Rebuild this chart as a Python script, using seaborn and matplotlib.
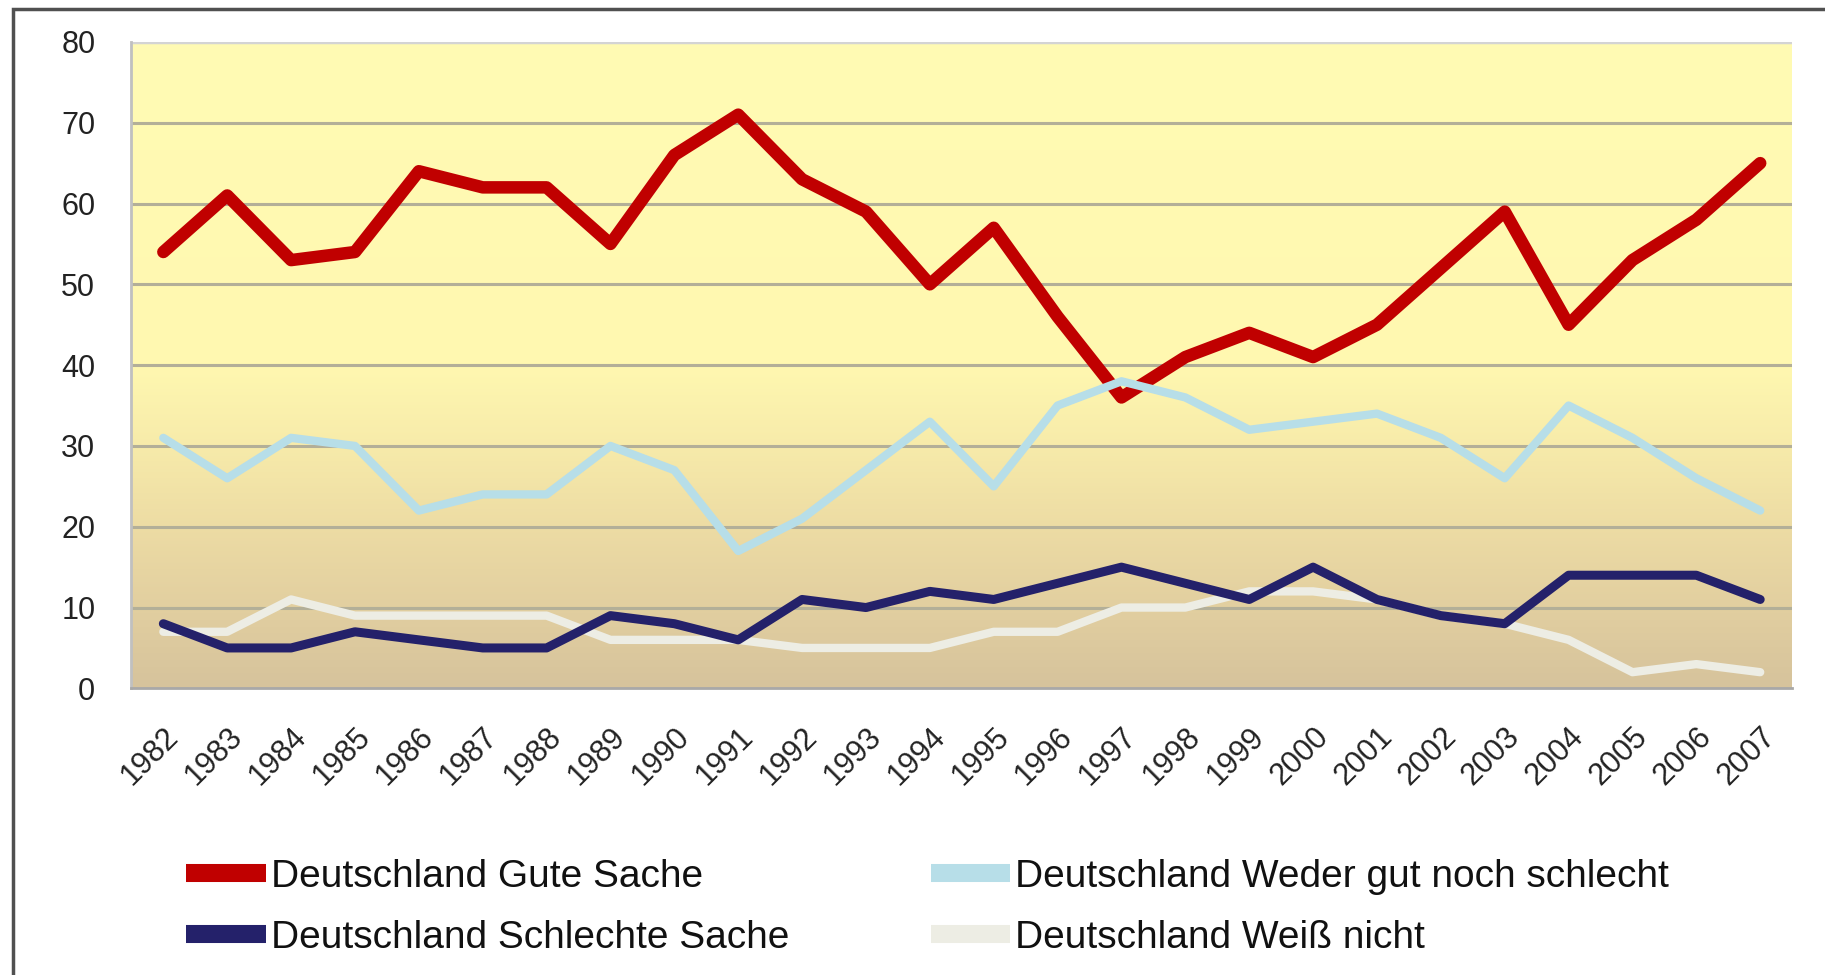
import matplotlib
matplotlib.use("Agg")
import matplotlib.pyplot as plt
import numpy as np
import pandas as pd
import seaborn as sns
from matplotlib.colors import LinearSegmentedColormap
from matplotlib.patches import Rectangle

years = [str(y) for y in range(1982, 2008)]
gute_sache = [54, 61, 53, 54, 64, 62, 62, 55, 66, 71, 63, 59, 50,
              57, 46, 36, 41, 44, 41, 45, 52, 59, 45, 53, 58, 65]
schlechte_sache = [8, 5, 5, 7, 6, 5, 5, 9, 8, 6, 11, 10, 12,
                   11, 13, 15, 13, 11, 15, 11, 9, 8, 14, 14, 14, 11]
weder_noch = [31, 26, 31, 30, 22, 24, 24, 30, 27, 17, 21, 27, 33,
              25, 35, 38, 36, 32, 33, 34, 31, 26, 35, 31, 26, 22]
weiss_nicht = [7, 7, 11, 9, 9, 9, 9, 6, 6, 6, 5, 5, 5,
               7, 7, 10, 10, 12, 12, 11, 9, 8, 6, 2, 3, 2]

labels = ["Deutschland Gute Sache", "Deutschland Schlechte Sache",
          "Deutschland Weder gut noch schlecht", "Deutschland Weiß nicht"]
colors = {"Deutschland Gute Sache": "#C00000",
          "Deutschland Schlechte Sache": "#24216A",
          "Deutschland Weder gut noch schlecht": "#B7DEE8",
          "Deutschland Weiß nicht": "#EDEDE4"}
widths = {"Deutschland Gute Sache": 9,
          "Deutschland Schlechte Sache": 6.5,
          "Deutschland Weder gut noch schlecht": 6,
          "Deutschland Weiß nicht": 6}

df = pd.DataFrame({"Jahr": years,
                   labels[0]: gute_sache,
                   labels[1]: schlechte_sache,
                   labels[2]: weder_noch,
                   labels[3]: weiss_nicht})
df["pos"] = np.arange(len(years))

sns.set_style("white")
plt.rcParams["font.family"] = ["Liberation Sans", "DejaVu Sans"]

fig = plt.figure(figsize=(18.25, 9.75), dpi=100)
ax = fig.add_axes([0.072, 0.294, 0.910, 0.663])

# gradient background
bg = LinearSegmentedColormap.from_list(
    "bg", [(0.0, "#D6C39C"), (0.125, "#E2CFA0"), (0.25, "#EDDCA4"),
           (0.375, "#F7EBAA"), (0.5, "#FFF8B0"), (1.0, "#FFFBB4")])
grad = np.linspace(0, 1, 256).reshape(-1, 1)
ax.imshow(grad, cmap=bg, origin="lower", aspect="auto",
          extent=(-0.5, 25.5, 0, 80), zorder=0)

for y in range(10, 80, 10):
    ax.axhline(y, color="#B3AF98", lw=2.2, zorder=1)
ax.axhline(80, color="#D4D4D4", lw=2.5, zorder=1)

draw_order = [labels[0], labels[3], labels[2], labels[1]]
for name in draw_order:
    sns.lineplot(data=df, x="pos", y=name, ax=ax, color=colors[name],
                 lw=widths[name], label=name, legend=False, zorder=3,
                 solid_joinstyle="round")

ax.set_xlim(-0.5, 25.5)
ax.set_ylim(0, 80)
ax.set_xlabel("")
ax.set_ylabel("")

ax.set_yticks(range(0, 81, 10))
ax.tick_params(axis="y", length=9, width=1.5, color="#B0B0B0", pad=17,
               labelsize=22, labelcolor="#222222")
ax.set_xticks(df["pos"])
ax.set_xticklabels(years, rotation=45, ha="right", va="top",
                   rotation_mode="anchor")
ax.set_xticks(np.arange(-0.5, 26, 1), minor=True)
ax.tick_params(axis="x", which="major", length=0, pad=24,
               labelsize=22, labelcolor="#222222")
ax.tick_params(axis="x", which="minor", length=9, width=1.5,
               color="#B0B0B0")

for side in ["top", "right"]:
    ax.spines[side].set_visible(False)
ax.spines["left"].set_color("#C0C0C0")
ax.spines["left"].set_linewidth(2)
ax.spines["bottom"].set_color("#A8A8A8")
ax.spines["bottom"].set_linewidth(2)

handles = {h.get_label(): h for h in ax.get_lines() if h.get_label() in labels}

leg_kw = dict(frameon=False, fontsize=28, handlelength=2.05, handletextpad=0.12,
              labelspacing=0.64, borderpad=0, borderaxespad=0, loc="upper left")
leg1 = fig.legend([handles[labels[0]], handles[labels[1]]], labels[:2],
                  bbox_to_anchor=(0.102, 0.119), **leg_kw)
leg2 = fig.legend([handles[labels[2]], handles[labels[3]]], labels[2:],
                  bbox_to_anchor=(0.510, 0.119), **leg_kw)
for leg in (leg1, leg2):
    for line in leg.get_lines():
        line.set_linewidth(13)
        line.set_solid_capstyle("butt")
    for t in leg.get_texts():
        t.set_color("#111111")

# outer chart frame (only left and top visible)
fig.add_artist(Rectangle((13 / 1825, -0.2), 1.2, 1.2 - 9 / 975,
                         transform=fig.transFigure, fill=False,
                         edgecolor="#505050", lw=2.5))

fig.savefig("out.png", dpi=100)
